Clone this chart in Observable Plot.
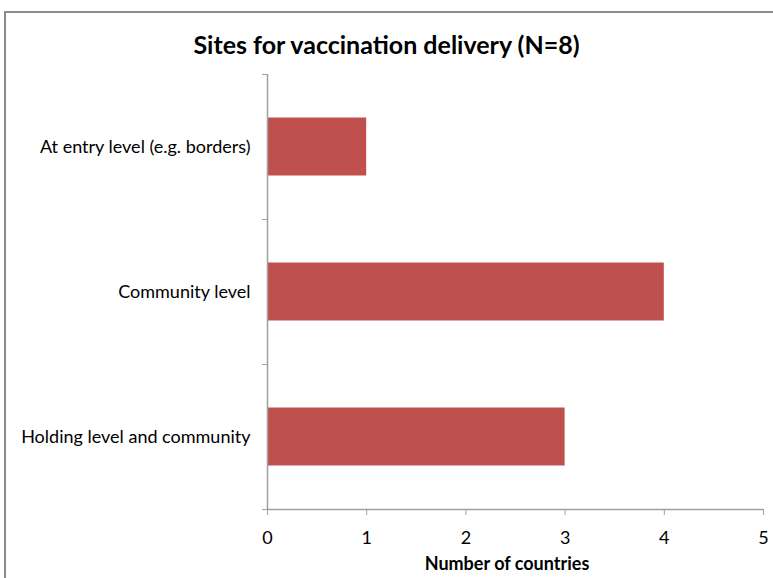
<!DOCTYPE html>
<html>
<head>
<meta charset="utf-8">
<script src="https://cdn.jsdelivr.net/npm/d3@7"></script>
<script src="https://cdn.jsdelivr.net/npm/@observablehq/plot@0.6"></script>
<style>
  html, body { margin: 0; padding: 0; background: #fff; }
  #chart {
    position: relative; width: 773px; height: 578px; overflow: hidden;
    font-family: Lato, "Noto Sans", sans-serif; color: #000;
  }
  #frame {
    position: absolute; left: 4px; top: 11px; width: 820px; height: 620px;
    border: 2px solid #8c8c8c; box-sizing: border-box;
  }
  #title {
    position: absolute; left: 0; top: 32px; width: 773px; text-align: center;
    font-weight: bold; font-size: 25px; line-height: 1;
  }
  #xlabel {
    position: absolute; left: 0; top: 554px; width: 1014px; text-align: center;
    font-weight: bold; font-size: 18px; line-height: 1;
  }
  #plot { position: absolute; left: 0; top: 0; }
</style>
</head>
<body>
<div id="chart">
  <div id="frame"></div>
  <div id="plot"></div>
  <div id="title">Sites for vaccination delivery (N=8)</div>
  <div id="xlabel">Number of countries</div>
</div>
<script>
// Sites where vaccination is delivered, and how many countries use each
const sites = [
  "At entry level (e.g. borders)",
  "Community level",
  "Holding level and community"
];
const counts = [1, 4, 3];
const xTicks = [0, 1, 2, 3, 4, 5];

// category rows are placed by index; boundaries fall on whole numbers
const rows = sites.map((site, i) => ({site, count: counts[i], i}));
const rowBounds = d3.range(sites.length + 1);
const rowCenters = rows.map(d => d.i + 0.5);

const axisGray = "#a0a0a0";

const chart = Plot.plot({
  width: 773,
  height: 578,
  marginLeft: 267,
  marginRight: 10,
  marginTop: 74,
  marginBottom: 69,
  style: {fontFamily: "Lato, 'Noto Sans', sans-serif", fontSize: "18px", background: "transparent", color: "#000"},
  x: {domain: [0, 5]},
  y: {domain: [sites.length, 0]},
  marks: [
    Plot.rectX(rows, {
      x: "count",
      y1: d => d.i + 0.3,
      y2: d => d.i + 0.7,
      fill: "#C0504D"
    }),
    Plot.ruleX([0], {stroke: axisGray, strokeWidth: 1.5}),
    Plot.ruleY([sites.length], {stroke: axisGray, strokeWidth: 1.5}),
    Plot.axisY({ticks: rowBounds, tickSize: 5, tickFormat: () => "", stroke: axisGray, label: null}),
    Plot.axisY({
      ticks: rowCenters,
      tickSize: 0,
      tickPadding: 17,
      tickFormat: v => sites[Math.floor(v)],
      fontSize: 18,
      label: null
    }),
    Plot.axisX({
      ticks: xTicks,
      tickSize: 6,
      tickPadding: 16,
      tickFormat: d3.format("d"),
      stroke: axisGray,
      fontSize: 18,
      label: null
    })
  ]
});

document.getElementById("plot").appendChild(chart);
</script>
</body>
</html>
